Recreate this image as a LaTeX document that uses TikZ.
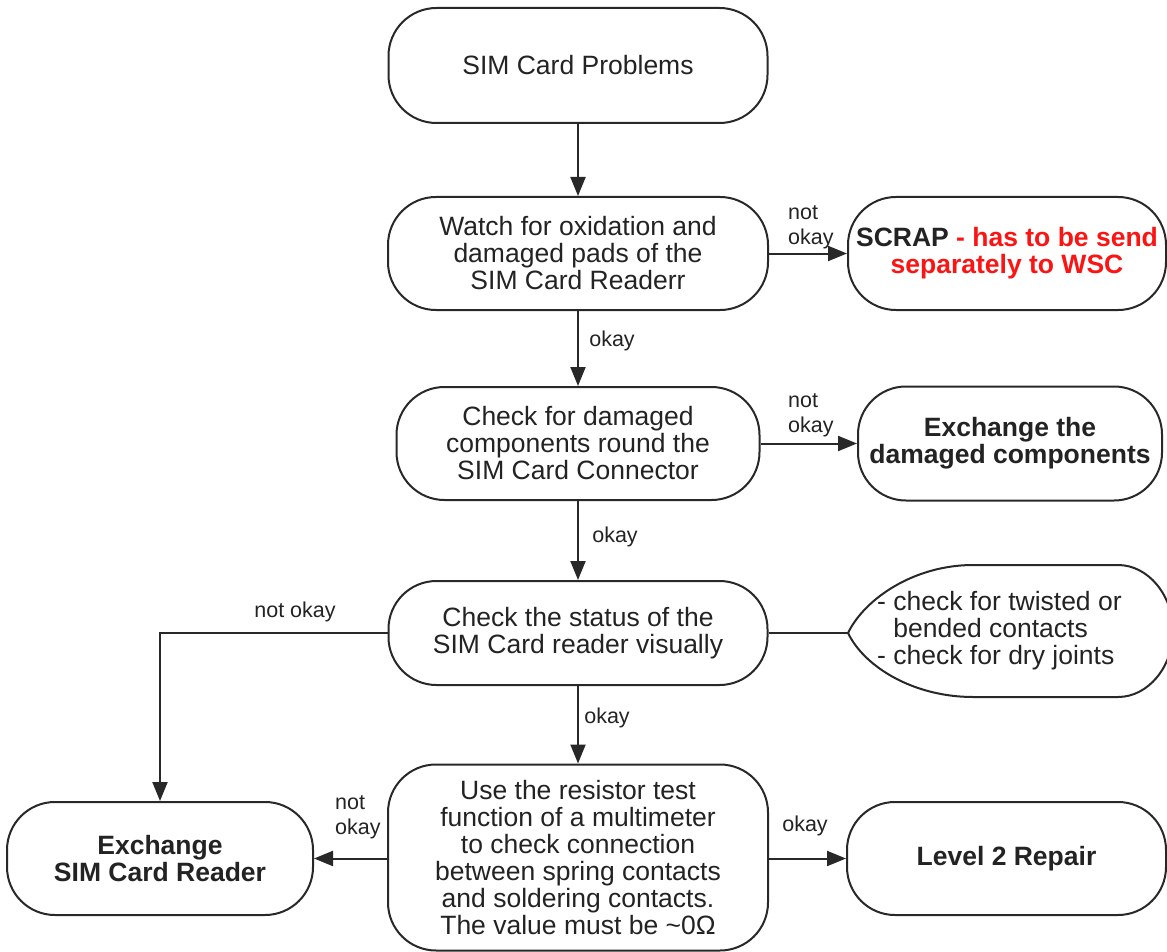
\documentclass[tikz,border=0pt]{standalone}
\usepackage{fontspec}
\setmainfont{Liberation Sans}
\usetikzlibrary{arrows.meta}
\definecolor{lc}{RGB}{40,40,40}
\definecolor{tc}{RGB}{35,35,35}
\definecolor{redtxt}{RGB}{250,20,20}
\newcommand{\myBody}{\fontsize{26.5}{27}\selectfont}
\newcommand{\myLab}{\fontsize{21.5}{25}\selectfont}
\begin{document}
\begin{tikzpicture}[x=1pt,y=-1pt,
  box/.style={draw=lc, line width=2pt, rounded corners=48pt, align=center, font=\myBody, text=tc, inner sep=0pt, fill=white},
  bbox/.style={box, font=\myBody\bfseries},
  lab/.style={font=\myLab, text=tc, inner sep=0pt},
  conn/.style={draw=lc, line width=2pt},
  arr/.style={conn, -{Triangle[length=19pt,width=15pt]}}
]
\useasboundingbox[fill=white] (0,0) rectangle (1167,952);

% main column
\node[box, minimum width=379pt, minimum height=115pt] (b1) at (578,65.5) {SIM Card Problems};
\node[box, minimum width=380pt, minimum height=113pt] (b2) at (578,253.5) {Watch for oxidation and\\damaged pads of the\\SIM Card Readerr};
\node[box, minimum width=363pt, minimum height=113pt] (b3) at (578,443.5) {Check for damaged\\components round the\\SIM Card Connector};
\node[box, minimum width=379pt, minimum height=104pt] (b4) at (578,633) {Check the status of the\\SIM Card reader visually};
\node[box, minimum width=380pt, minimum height=186pt] (b5) at (578,857.5) {Use the resistor test\\function of a multimeter\\to check connection\\between spring contacts\\and soldering contacts.\\The value must be \textasciitilde0\symbol{"03A9}};

% right / left outcomes
\node[bbox, minimum width=318pt, minimum height=113pt] (scrap) at (1007,253.5) {SCRAP \textcolor{redtxt}{- has to be send}\\\textcolor{redtxt}{separately to WSC}};
\node[bbox, minimum width=304pt, minimum height=114pt] (exd) at (1010,443.5) {Exchange the\\damaged components};
\node[bbox, minimum width=306pt, minimum height=113pt] (exs) at (160,858.5) {Exchange\\SIM Card Reader};
\node[bbox, minimum width=319pt, minimum height=113pt] (lv2) at (1006.5,858.5) {Level 2 Repair};

% annotation shape
\coordinate (annL) at (848,633);
\draw[conn, fill=white] (annL) .. controls (865,598) and (915,565) .. (973,565) -- (1118,565)
  .. controls (1148,565) and (1173,595) .. (1173,631)
  .. controls (1173,667) and (1148,697) .. (1118,697) -- (973,697)
  .. controls (915,697) and (865,668) .. (annL) -- cycle;
\node[font=\myBody, text=tc, align=left, anchor=west, inner sep=0pt] (annt) at (877,631) {- check for twisted or\\\phantom{- }bended contacts\\- check for dry joints};

% connectors
\draw[arr] (b1.south) -- (b2.north);
\draw[arr] (b2.south) -- (b3.north);
\draw[arr] (b3.south) -- (b4.north);
\draw[arr] (b4.south) -- (b5.north);
\draw[arr] (b2.east) -- (scrap.west);
\draw[arr] (b3.east) -- (exd.west);
\draw[conn] (b4.east) -- (annL);
\draw[arr] (b4.west) -| (exs.north);
\draw[arr] (b5.west |- exs.east) -- (exs.east);
\draw[arr] (b5.east |- lv2.west) -- (lv2.west);

% labels
\node[lab, anchor=west, align=left] (n1) at (788,227) {not\\okay};
\node[lab] (o1) at (612,341) {okay};
\node[lab, anchor=west, align=left] (n2) at (788,415) {not\\okay};
\node[lab] (o2) at (615,537) {okay};
\node[lab] (n3) at (295,612) {not okay};
\node[lab] (o3) at (607,718) {okay};
\node[lab, anchor=west, align=left] (n4) at (335,817) {not\\okay};
\node[lab] (o4) at (805,826) {okay};
\end{tikzpicture}
\end{document}
